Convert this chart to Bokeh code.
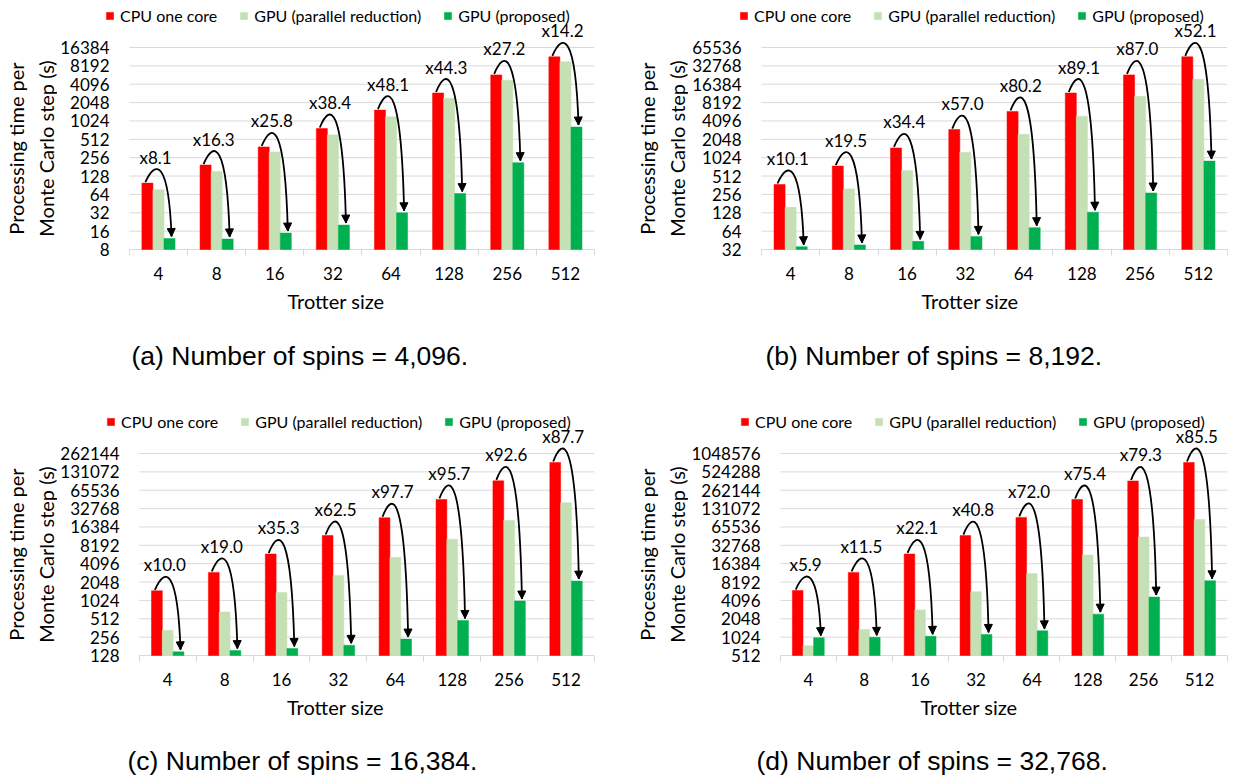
import math
from bokeh.plotting import figure
from bokeh.models import (ColumnDataSource, FixedTicker, CustomJSTickFormatter, NumeralTickFormatter,
                          Legend, LegendItem, Label, Arrow, NormalHead, Range1d)
from bokeh.layouts import row, column
from bokeh.core.properties import value
from bokeh.embed import file_html
from bokeh.resources import INLINE

# ---------------- data ----------------
trotter_sizes = ["4", "8", "16", "32", "64", "128", "256", "512"]
series_names = ["CPU one core", "GPU (parallel reduction)", "GPU (proposed)"]
series_colors = ["#FF0000", "#C5E0B4", "#00B050"]
y_title = "Processing time per\nMonte Carlo step (s)"
x_title = "Trotter size"

# (a) Number of spins = 4,096
cpu_a = [98, 194, 384, 770, 1543, 2940, 5830, 11520]
pr_a = [76, 152, 318, 605, 1200, 2403, 4760, 9540]
prop_a = [12.1, 11.9, 14.9, 20.1, 32.0, 66.0, 212, 815]
speed_a = [8.1, 16.3, 25.8, 38.4, 48.1, 44.3, 27.2, 14.2]
ticks_a = [8, 16, 32, 64, 128, 256, 512, 1024, 2048, 4096, 8192, 16384]

# (b) Number of spins = 8,192
cpu_b = [372, 745, 1478, 2958, 5870, 11760, 23300, 46100]
pr_b = [157, 315, 634, 1254, 2485, 4910, 10370, 19740]
prop_b = [35.5, 38, 43.5, 52.5, 73, 131, 270, 900]
speed_b = [10.1, 19.5, 34.4, 57.0, 80.2, 89.1, 87.0, 52.1]
ticks_b = [32, 64, 128, 256, 512, 1024, 2048, 4096, 8192, 16384, 32768, 65536]

# (c) Number of spins = 16,384
cpu_c = [1470, 2950, 5910, 11850, 23170, 46340, 93300, 186800]
pr_c = [331, 662, 1380, 2630, 5210, 10300, 20900, 40900]
prop_c = [147, 154, 167, 188, 238, 480, 1000, 2125]
speed_c = [10.0, 19.0, 35.3, 62.5, 97.7, 95.7, 92.6, 87.7]
ticks_c = [128, 256, 512, 1024, 2048, 4096, 8192, 16384, 32768, 65536, 131072, 262144]

# (d) Number of spins = 32,768
cpu_d = [5950, 11800, 23650, 47300, 94000, 185000, 372000, 746000]
pr_d = [738, 1370, 2860, 5680, 11340, 22700, 45000, 87000]
prop_d = [1005, 1015, 1055, 1135, 1300, 2440, 4640, 8600]
speed_d = [5.9, 11.5, 22.1, 40.8, 72.0, 75.4, 79.3, 85.5]
ticks_d = [512, 1024, 2048, 4096, 8192, 16384, 32768, 65536, 131072, 262144, 524288, 1048576]

captions = ["(a) Number of spins = 4,096.", "(b) Number of spins = 8,192.",
            "(c) Number of spins = 16,384.", "(d) Number of spins = 32,768."]

# ---------------- layout constants ----------------
FRAME_H = 250          # frame height (px)
BOTTOM_TICK_PX = 249   # y of lowest tick from frame top
TOP_TICK_PX = 47       # y of highest tick from frame top
BAR_W = 0.19
PEAK_PX = 13.0
GRID = "#d9d9d9"
FONT = "Lato"
MAIN_H = 318


def solve_k(D, h):
    lo, hi = 0.0, 400.0
    ts = [j / 400 for j in range(401)]
    for _ in range(50):
        k = (lo + hi) / 2
        m = max(3 * k * t * (1 - t) - t ** 3 * D for t in ts)
        if m < h:
            lo = k
        else:
            hi = k
    return (lo + hi) / 2


def make_panel(cpu, pr, prop, speed, ticks, width, F, LEG, P, R):
    """F: frame left, LEG: legend left, P: plot-area left, R: plot-area right (px in figure)."""
    n = len(trotter_sizes)
    n_dbl = math.log2(ticks[-1]) - math.log2(ticks[0])
    ppd = (BOTTOM_TICK_PX - TOP_TICK_PX) / n_dbl
    ymin = ticks[0]
    lmin = math.log2(ymin)
    y_lo = 2 ** (lmin - (FRAME_H - BOTTOM_TICK_PX) / ppd)
    y_hi = 2 ** (lmin + BOTTOM_TICK_PX / ppd)
    slot = (R - P) / n
    x_lo = -0.5 - (P - F) / slot
    p = figure(width=width, height=MAIN_H, x_range=Range1d(x_lo, n - 0.5),
               y_range=Range1d(y_lo, y_hi), y_axis_type="log", output_backend="svg",
               toolbar_location=None, min_border_left=F, min_border_right=width - R,
               min_border_top=0, min_border_bottom=MAIN_H - FRAME_H)
    p.outline_line_color = None
    p.background_fill_color = "white"
    p.border_fill_color = "white"

    # horizontal gridlines over the category span only
    p.segment(x0=[-0.5] * len(ticks), x1=[n - 0.5] * len(ticks), y0=ticks, y1=ticks,
              line_color=GRID, line_width=1, level="underlay")

    renderers = []
    for vals, off, col in zip([cpu, pr, prop], [-BAR_W, 0.0, BAR_W], series_colors):
        src = ColumnDataSource(dict(x=[i + off for i in range(len(vals))], top=vals,
                                    bottom=[ymin] * len(vals)))
        r = p.vbar(x="x", top="top", bottom="bottom", width=BAR_W, source=src,
                   fill_color=col, line_color=col, line_width=0.5)
        renderers.append(r)

    # speed-up arrows
    x0, y0, x1, y1, cx0, cy0, cx1, cy1, lx, ly, lab = ([] for _ in range(11))
    for i, (c, g, s) in enumerate(zip(cpu, prop, speed)):
        lr = math.log2(c)
        lg = math.log2(g)
        sy = lr + 1.0 / ppd
        ey = lg + 2.0 / ppd
        D = (sy - ey) * ppd
        k = solve_k(D, PEAK_PX)
        x0.append(i - 0.225); y0.append(2 ** sy)
        x1.append(i + 0.225); y1.append(2 ** ey)
        cx0.append(i - 0.05); cy0.append(2 ** (sy + k / ppd))
        cx1.append(i + 0.175); cy1.append(2 ** (sy + k / ppd))
        lx.append(i - 0.05); ly.append(2 ** (lr + 26.0 / ppd))
        lab.append("x{:.1f}".format(s))
    asrc = ColumnDataSource(dict(x0=x0, y0=y0, x1=x1, y1=y1, cx0=cx0, cy0=cy0,
                                 cx1=cx1, cy1=cy1, lx=lx, ly=ly, lab=lab))
    p.bezier(x0="x0", y0="y0", x1="x1", y1="y1", cx0="cx0", cy0="cy0", cx1="cx1", cy1="cy1",
             source=asrc, line_color="black", line_width=1.8)
    p.add_layout(Arrow(end=NormalHead(size=8, fill_color="black", line_color="black", line_width=1),
                       x_start="cx1", y_start="cy1", x_end="x1", y_end="y1",
                       source=asrc, line_alpha=0))
    p.text(x="lx", y="ly", text="lab", source=asrc, text_font=value(FONT),
           text_font_size=value("17px"), text_align="center", text_baseline="middle",
           text_color="black")

    # axes
    xa = p.xaxis[0]
    xa.ticker = FixedTicker(ticks=list(range(n)),
                            minor_ticks=[i - 0.5 for i in range(n + 1)])
    xa.formatter = CustomJSTickFormatter(args=dict(labels=trotter_sizes),
                                         code="const i = Math.round(tick); return (i >= 0 && i < labels.length) ? labels[i] : '';")
    xa.axis_line_color = None
    xa.major_tick_line_color = None
    xa.major_tick_in = 0
    xa.major_tick_out = 0
    xa.minor_tick_line_color = GRID
    xa.minor_tick_in = 1
    xa.minor_tick_out = 5
    xa.major_label_standoff = 11
    xa.major_label_text_font = FONT
    xa.major_label_text_font_size = "17px"
    xa.major_label_text_color = "black"
    xa.axis_label = x_title
    xa.axis_label_text_font = FONT
    xa.axis_label_text_font_size = "20px"
    xa.axis_label_text_font_style = "normal"
    xa.axis_label_text_color = "black"
    xa.axis_label_standoff = 6

    ya = p.yaxis[0]
    ya.ticker = FixedTicker(ticks=ticks)
    ya.formatter = NumeralTickFormatter(format="0")
    ya.axis_line_color = None
    ya.major_tick_line_color = None
    ya.minor_tick_line_color = None
    ya.major_tick_in = 0
    ya.major_tick_out = 0
    ya.minor_tick_in = 0
    ya.minor_tick_out = 0
    ya.major_label_standoff = 20 - (P - F)
    ya.major_label_text_font = FONT
    ya.major_label_text_font_size = "17px"
    ya.major_label_text_color = "black"

    p.xgrid.visible = False
    p.ygrid.visible = False

    legend = Legend(items=[LegendItem(label=nm, renderers=[r]) for nm, r in zip(series_names, renderers)],
                    orientation="horizontal", location=(LEG - F, FRAME_H - 25),
                    label_text_font=FONT, label_text_font_size="16px", label_text_color="black",
                    glyph_width=9, glyph_height=9, label_standoff=6, spacing=22,
                    padding=0, margin=0, border_line_color=None, background_fill_alpha=0)
    p.add_layout(legend)
    return p


def blank(width, height):
    c = figure(width=width, height=height, x_range=Range1d(0, 1), y_range=Range1d(0, 1),
               x_axis_location=None, y_axis_location=None, toolbar_location=None,
               output_backend="svg", min_border=0)
    c.outline_line_color = None
    c.xgrid.visible = False
    c.ygrid.visible = False
    return c


def make_ytitle(width, cx):
    # the strip's frame is aligned with the neighbouring panel's frame (0..FRAME_H);
    # centre the title on the span of the tick grid
    c = blank(width, MAIN_H)
    cy = FRAME_H - (TOP_TICK_PX + BOTTOM_TICK_PX) / 2.0
    c.add_layout(Label(x=cx, y=cy, x_units="screen", y_units="screen",
                       text=y_title, angle=math.pi / 2, text_font=FONT, text_font_size="20px",
                       text_color="black", text_align="center", text_baseline="middle",
                       text_line_height=1.25))
    return c


def make_caption(text, width, height, x, y):
    c = blank(width, height)
    c.add_layout(Label(x=x, y=y, x_units="screen", y_units="screen", text=text,
                       text_font="Liberation Sans", text_font_size="26.5px",
                       text_color="black", text_align="left", text_baseline="middle"))
    return c


YL_L, YL_R = 57, 68   # widths of the y-title strips (left / right column)

ya_fig = make_ytitle(YL_L, 30.5)
yb_fig = make_ytitle(YL_R, 41.5)
yc_fig = make_ytitle(YL_L, 30.5)
yd_fig = make_ytitle(YL_R, 41.5)

pa = make_panel(cpu_a, pr_a, prop_a, speed_a, ticks_a, 620 - YL_L, 76 - YL_L, 104 - YL_L, 128 - YL_L, 594 - YL_L)
pb = make_panel(cpu_b, pr_b, prop_b, speed_b, ticks_b, 613 - YL_R, 92 - YL_R, 119 - YL_R, 141 - YL_R, 607 - YL_R)
pc = make_panel(cpu_c, pr_c, prop_c, speed_c, ticks_c, 620 - YL_L, 74 - YL_L, 104 - YL_L, 137 - YL_L, 594 - YL_L)
pd = make_panel(cpu_d, pr_d, prop_d, speed_d, ticks_d, 613 - YL_R, 89 - YL_R, 119 - YL_R, 159 - YL_R, 607 - YL_R)

ca = make_caption(captions[0], 620, 88, 131, 51)
cb = make_caption(captions[1], 613, 88, 145, 51)
cc = make_caption(captions[2], 620, 54, 127, 18)
cd = make_caption(captions[3], 613, 54, 136, 18)

layout = column(row(ya_fig, pa, yb_fig, pb), row(ca, cb),
                row(yc_fig, pc, yd_fig, pd), row(cc, cd))
open("out.html", "w").write(file_html(layout, INLINE))
